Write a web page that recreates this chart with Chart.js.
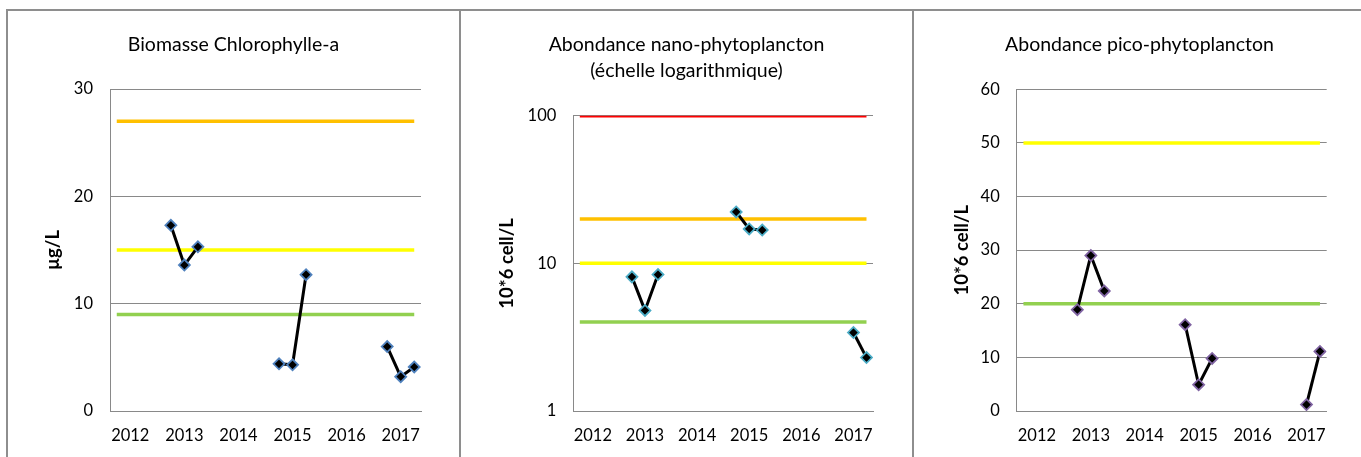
<!DOCTYPE html>
<html><head><meta charset="utf-8">
<script src="https://cdn.jsdelivr.net/npm/chart.js@4"></script>
<style>
html,body{margin:0;padding:0;background:#fff;overflow:hidden;width:1361px;height:457px;position:relative;}
.bd{position:absolute;background:#8e8e8e;}
.panel{position:absolute;top:11px;width:451px;height:446px;}
canvas{display:block;}
</style></head><body>
<div class="bd" style="left:6px;top:9px;width:1355px;height:2px"></div>
<div class="bd" style="left:6px;top:9px;width:2px;height:448px"></div>
<div class="bd" style="left:459px;top:9px;width:2px;height:448px"></div>
<div class="bd" style="left:912px;top:9px;width:2px;height:448px"></div>
<div class="panel" style="left:8px"><canvas id="c1" width="451" height="446"></canvas></div>
<div class="panel" style="left:461px"><canvas id="c2" width="451" height="446"></canvas></div>
<div class="panel" style="left:914px"><canvas id="c3" width="451" height="446"></canvas></div>
<script>
// ---- data ----
const yearTicks = [2012, 2013, 2014, 2015, 2016, 2017];
const sampleDates = [2012.75, 2013, 2013.25, 2014.75, 2015, 2015.25, 2016.75, 2017, 2017.25];
const chlValues  = [17.3, 13.6, 15.3, 4.4, 4.3, 12.7, 6.0, 3.2, 4.1];
const nanoValues = [8.1, 4.8, 8.4, 22.3, 17.1, 16.8, null, 3.4, 2.3];
const picoValues = [18.9, 29.0, 22.4, 16.1, 4.9, 9.8, null, 1.2, 11.1];
const chlThresholds  = [9, 15, 27];
const nanoThresholds = [4, 10, 20, 100];
const picoThresholds = [20, 50];
const thresholdSpan = [2011.75, 2017.25];
const chlTicks  = [0, 10, 20, 30];
const nanoTicks = [1, 10, 100];
const picoTicks = [0, 10, 20, 30, 40, 50, 60];

const thresholdColors = ['#92D050', '#FFFF00', '#FFC000', '#FF0000'];
const FONT = 'Lato';

function makeChart(id, o) {
  const series = sampleDates.map((d, i) => ({x: d, y: o.values[i]}));
  const datasets = [{
    data: series,
    borderColor: '#000', borderWidth: 3,
    pointStyle: 'rectRot', pointRadius: 5.5,
    pointBackgroundColor: '#000', pointBorderColor: o.marker, pointBorderWidth: 1.8,
    spanGaps: false,
    segment: { borderColor: c => (c.p1.parsed.x - c.p0.parsed.x > 1 ? 'rgba(0,0,0,0)' : '#000') }
  }];
  o.thresholds.forEach((t, i) => {
    datasets.push({
      data: thresholdSpan.map(x => ({x, y: t})),
      borderColor: thresholdColors[i], borderWidth: 3.5, pointRadius: 0, borderCapStyle: 'butt'
    });
  });
  new Chart(document.getElementById(id), {
    type: 'line',
    data: { datasets },
    options: {
      responsive: false, animation: false, devicePixelRatio: 1,
      layout: { padding: 0 },
      plugins: {
        legend: { display: false }, tooltip: { enabled: false },
        title: {
          display: true, text: o.title, color: '#000',
          font: { family: FONT, size: 19.5, weight: 'normal', lineHeight: 1.318 },
          padding: { top: 21.15, bottom: o.titleBottom }
        }
      },
      scales: {
        x: {
          type: 'linear', min: 2011.625, max: 2017.375,
          afterBuildTicks: s => { s.ticks = yearTicks.map(v => ({value: v})); },
          afterFit: s => { s.height = 46; },
          grid: { display: true, color: 'rgba(0,0,0,0)', drawTicks: false },
          border: { display: true, color: '#898989', width: 1 },
          ticks: { color: '#000', font: { family: FONT, size: 16.5 }, padding: 14.5, maxRotation: 0, autoSkip: false,
                   callback: v => String(v) }
        },
        y: {
          type: o.logY ? 'logarithmic' : 'linear',
          min: o.ticks[0], max: o.ticks[o.ticks.length - 1],
          afterBuildTicks: s => { s.ticks = o.ticks.map(v => ({value: v})); },
          afterFit: s => { s.width = o.plotLeft; },
          grid: { color: '#898989', lineWidth: 1, drawTicks: false },
          border: { display: true, color: '#898989', width: 1 },
          ticks: { color: '#000', font: { family: FONT, size: 16.5 }, padding: 17, callback: v => String(v) },
          title: { display: true, text: o.yTitle, color: '#000',
                   font: { family: FONT, size: 18.5, weight: 'bold', lineHeight: 1.2 },
                   padding: { top: o.yTitlePad, bottom: 0 } }
        },
        yRightSpace: {
          type: 'linear', position: 'right', display: true,
          afterFit: s => { s.width = o.rightPad; },
          grid: { display: false, drawTicks: false },
          border: { display: false },
          ticks: { display: false }
        }
      }
    }
  });
}

makeChart('c1', { values: chlValues, thresholds: chlThresholds, marker: '#4F81BD', ticks: chlTicks,
  title: 'Biomasse Chlorophylle-a', yTitle: 'µg/L', plotLeft: 102, rightPad: 38, titleBottom: 31.15, yTitlePad: 34.2 });
makeChart('c2', { values: nanoValues, thresholds: nanoThresholds, marker: '#4BACC6', ticks: nanoTicks, logY: true,
  title: ['Abondance nano-phytoplancton', '(échelle logarithmique)'], yTitle: '10*6 cell/L', plotLeft: 112.3, rightPad: 39, titleBottom: 32.15, yTitlePad: 34.6 });
makeChart('c3', { values: picoValues, thresholds: picoThresholds, marker: '#8064A2', ticks: picoTicks,
  title: 'Abondance pico-phytoplancton', yTitle: '10*6 cell/L', plotLeft: 102.7, rightPad: 38.3, titleBottom: 31.45, yTitlePad: 36.6 });
</script>
</body></html>
